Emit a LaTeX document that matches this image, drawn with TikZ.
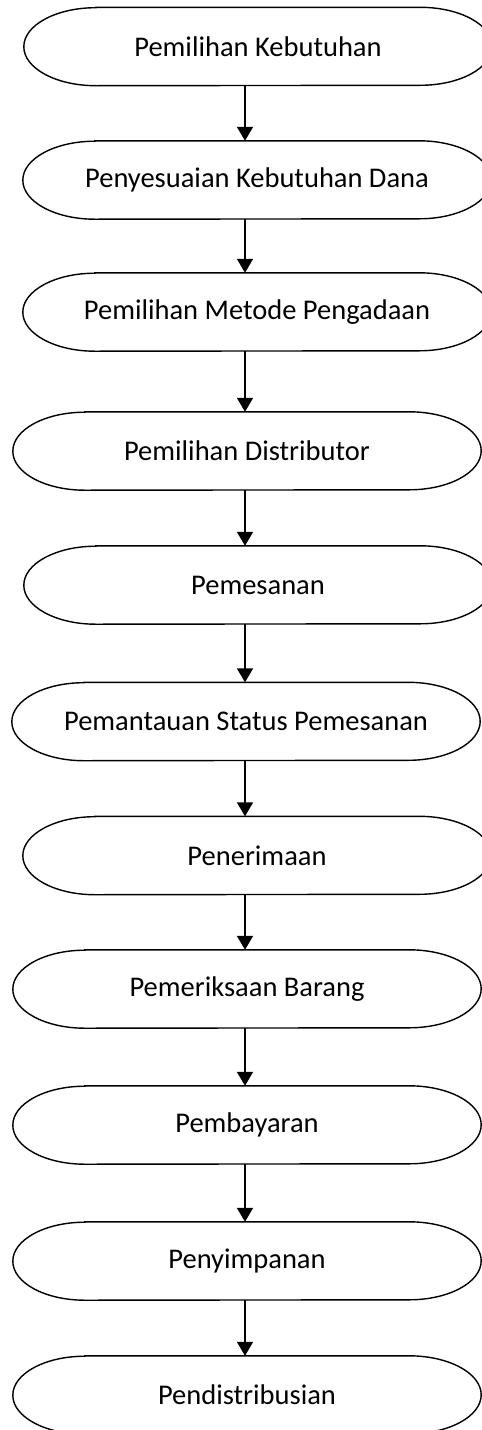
\documentclass[tikz,border=0pt]{standalone}
\usepackage{fontspec}
\setmainfont{Carlito}
\usetikzlibrary{arrows.meta}
\tikzset{
  term/.style={draw=none, minimum width=468pt, minimum height=78pt, inner sep=0pt,
    font=\fontsize{28.5}{34}\selectfont},
  termline/.style={line width=1.4pt, black},
  flow/.style={line width=1.7pt, -{Triangle[length=14pt,width=16pt]}},
}
\newcommand{\termoutline}[1]{%
  \draw[termline] ([xshift=72pt]#1.north west) -- ([xshift=-72pt]#1.north east)
    arc[start angle=90, end angle=-90, x radius=72pt, y radius=39pt]
    -- ([xshift=72pt]#1.south west)
    arc[start angle=270, end angle=90, x radius=72pt, y radius=39pt] -- cycle;}
\begin{document}
\begin{tikzpicture}[x=1pt,y=-1pt]
\useasboundingbox (0,0) rectangle (482,1430);
\node[term] (n1) at (258,46.5) {Pemilihan Kebutuhan};
\node[term] (n2) at (257,180) {Penyesuaian Kebutuhan Dana};
\node[term] (n3) at (257,312) {Pemilihan Metode Pengadaan};
\node[term] (n4) at (247,451) {Pemilihan Distributor};
\node[term] (n5) at (258,585) {Pemesanan};
\node[term] (n6) at (246,721.5) {Pemantauan Status Pemesanan};
\node[term] (n7) at (257,855.5) {Penerimaan};
\node[term] (n8) at (247,989) {Pemeriksaan Barang};
\node[term] (n9) at (247,1125) {Pembayaran};
\node[term] (n10) at (247,1261) {Penyimpanan};
\node[term] (n11) at (247,1395) {Pendistribusian};
\foreach \n in {n1,n2,n3,n4,n5,n6,n7,n8,n9,n10,n11}{\termoutline{\n}}
\coordinate (ax) at (245,0);
\foreach \a/\b in {n1/n2,n2/n3,n3/n4,n4/n5,n5/n6,n6/n7,n7/n8,n8/n9,n9/n10,n10/n11}{
  \draw[flow] (\a.south -| ax) -- (\b.north -| ax);
}
\end{tikzpicture}
\end{document}
